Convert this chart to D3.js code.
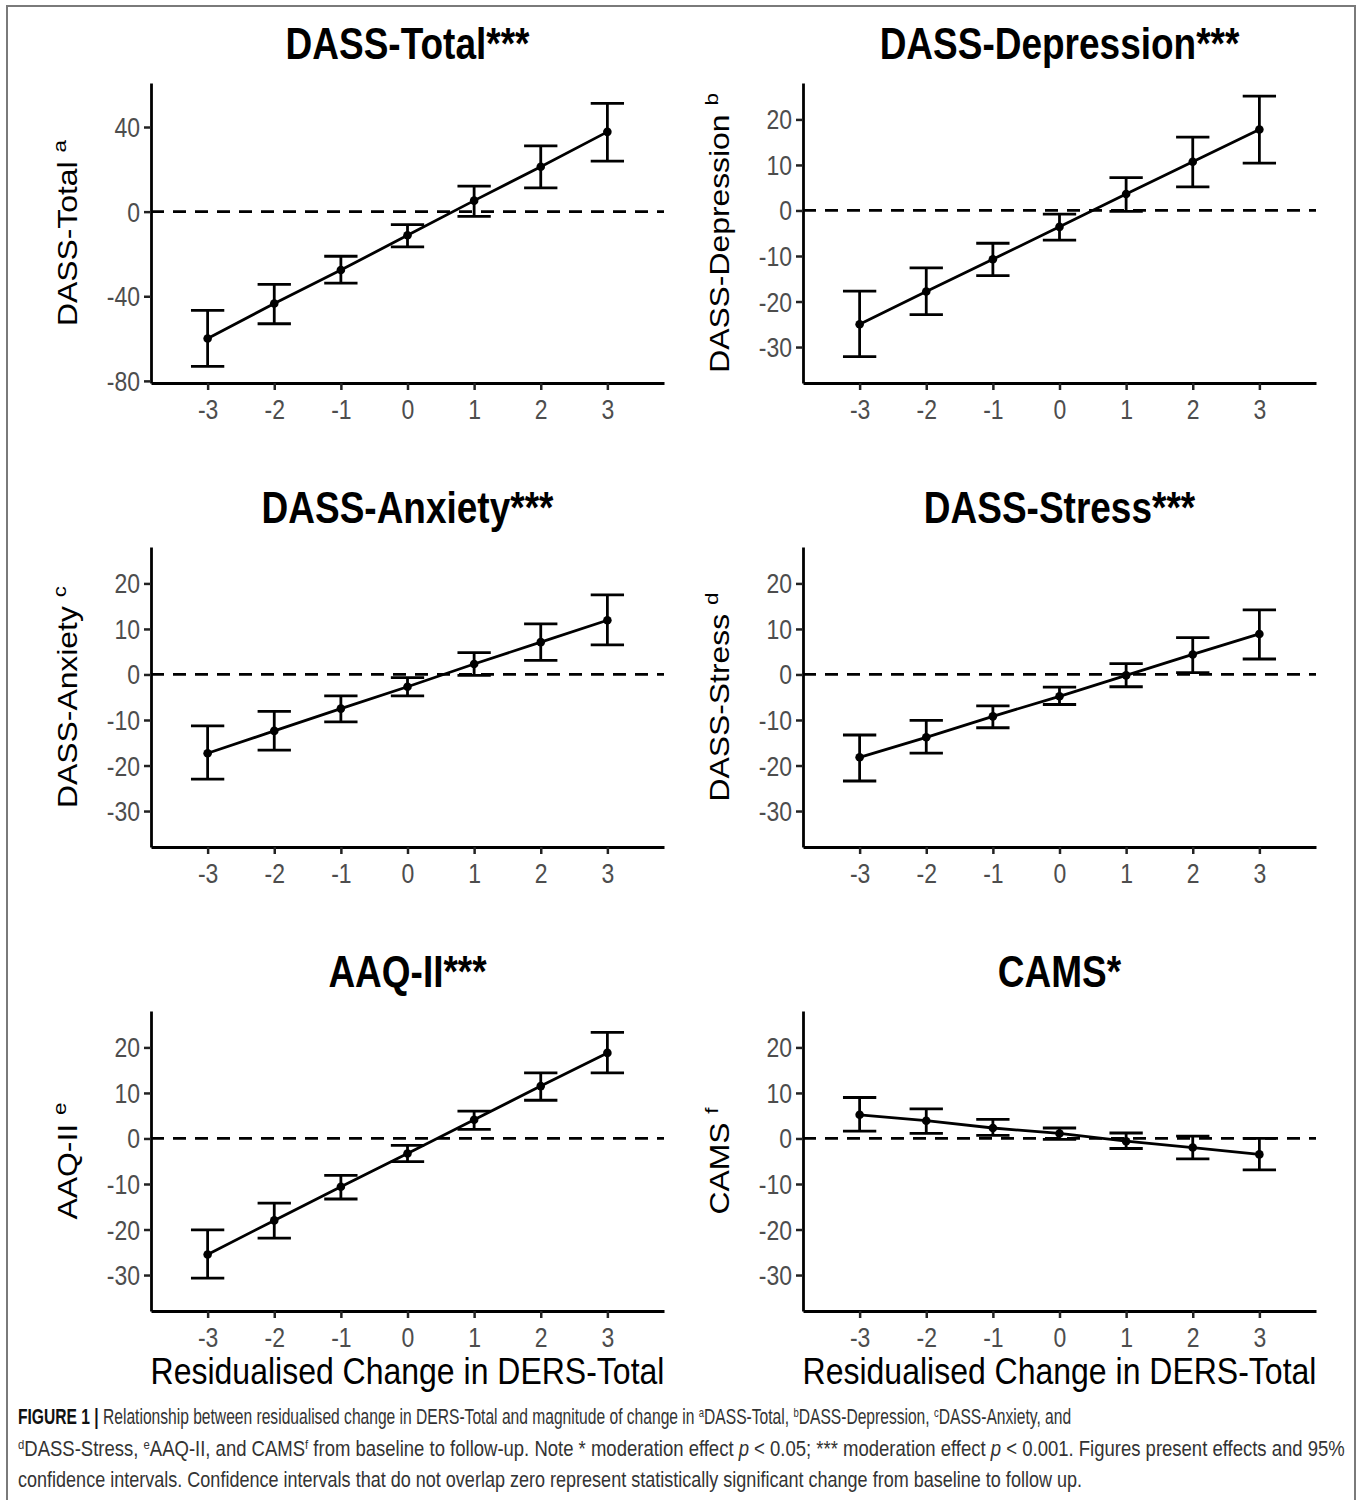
<!DOCTYPE html>
<html>
<head>
<meta charset="utf-8">
<script src="https://cdn.jsdelivr.net/npm/d3@7"></script>
<style>
  body { margin: 0; background: #fff; }
  svg text { font-family: "Liberation Sans", Arial, sans-serif; }
</style>
</head>
<body>
<div id="chart"></div>
<script>
// x levels (residualised change in DERS-Total)
var xLevels = [-3, -2, -1, 0, 1, 2, 3];

// panel titles, y labels and their superscripts
var panelTitles = ["DASS-Total***", "DASS-Depression***", "DASS-Anxiety***", "DASS-Stress***", "AAQ-II***", "CAMS*"];
var yTitles = ["DASS-Total", "DASS-Depression", "DASS-Anxiety", "DASS-Stress", "AAQ-II", "CAMS"];
var ySups = ["a", "b", "c", "d", "e", "f"];

// estimates with lower / upper 95% CI
var totalEst = [-60.0, -43.4, -27.6, -11.2, 5.2, 21.2, 37.7];
var totalLo  = [-73.1, -53.0, -33.8, -16.7, -2.2, 11.2, 23.9];
var totalHi  = [-46.7, -34.4, -21.1, -6.1, 12.1, 31.1, 51.2];

var depEst = [-25.0, -17.8, -10.7, -3.6, 3.6, 10.7, 17.8];
var depLo  = [-32.1, -22.9, -14.3, -6.5, -0.2, 5.2, 10.4];
var depHi  = [-17.7, -12.6, -7.2, -0.8, 7.2, 16.1, 25.1];

var anxEst = [-17.3, -12.4, -7.5, -2.7, 2.3, 7.1, 11.9];
var anxLo  = [-23.0, -16.6, -10.4, -4.7, -0.2, 3.1, 6.5];
var anxHi  = [-11.3, -8.1, -4.7, -0.7, 4.8, 11.1, 17.5];

var strEst = [-18.2, -13.8, -9.2, -4.8, -0.2, 4.4, 8.9];
var strLo  = [-23.4, -17.3, -11.7, -6.6, -2.7, 0.4, 3.4];
var strHi  = [-13.3, -10.1, -6.9, -2.8, 2.4, 8.1, 14.2];

var aaqEst = [-25.5, -18.0, -10.6, -3.3, 4.1, 11.5, 18.8];
var aaqLo  = [-30.7, -21.9, -13.3, -5.1, 2.0, 8.4, 14.4];
var aaqHi  = [-20.1, -14.2, -8.1, -1.5, 6.0, 14.4, 23.3];

var camsEst = [5.2, 3.9, 2.3, 1.1, -0.6, -2.0, -3.5];
var camsLo  = [1.6, 1.1, 0.7, -0.2, -2.2, -4.5, -6.9];
var camsHi  = [9.0, 6.5, 4.2, 2.3, 1.2, 0.5, 0.0];

// y ticks
var totalTicks = [-80, -40, 0, 40];
var subTicks = [-30, -20, -10, 0, 10, 20];

var xTitle = "Residualised Change in DERS-Total";

var panels = [
  { est: totalEst, lo: totalLo, hi: totalHi, dom: [-81, 60.8], ticks: totalTicks },
  { est: depEst, lo: depLo, hi: depHi, dom: [-37.9, 28], ticks: subTicks },
  { est: anxEst, lo: anxLo, hi: anxHi, dom: [-37.9, 28], ticks: subTicks },
  { est: strEst, lo: strLo, hi: strHi, dom: [-37.9, 28], ticks: subTicks },
  { est: aaqEst, lo: aaqLo, hi: aaqHi, dom: [-37.9, 28], ticks: subTicks },
  { est: camsEst, lo: camsLo, hi: camsHi, dom: [-37.9, 28], ticks: subTicks }
];

var W = 1358, H = 1511;
var S = 1.18;   // the original image is a bit stretched vertically, so stretch the text too
var colX = [151, 803], rowY = [83, 547, 1011];
var plotW = 513, plotH = 300;
var lw = 2.8;

var svg = d3.select("#chart").append("svg")
  .attr("width", W).attr("height", H);

svg.append("rect").attr("width", W).attr("height", H).attr("fill", "#fff");

// frame round the figure
svg.append("path")
  .attr("d", "M7,1500 V6 H1355 V1500")
  .attr("fill", "none")
  .attr("stroke", "#7a7a7a")
  .attr("stroke-width", 2);

function place(sel, x, y, rot, sx) {
  sel.attr("x", 0).attr("y", 0)
    .attr("transform", "translate(" + x + "," + y + ") scale(" + (sx || 1) + "," + S + ")" + (rot ? " rotate(-90)" : ""));
}

panels.forEach(function(p, i) {
  var col = i % 2, row = Math.floor(i / 2);
  var g = svg.append("g")
    .attr("transform", "translate(" + colX[col] + "," + rowY[row] + ")");

  var x = d3.scaleLinear().domain([-3.85, 3.85]).range([0, plotW]);
  var y = d3.scaleLinear().domain(p.dom).range([plotH, 0]);

  // axes
  var xa = g.append("g").attr("transform", "translate(0," + plotH + ")")
    .call(d3.axisBottom(x).tickValues(xLevels).tickSize(7).tickSizeOuter(0).tickFormat(d3.format("d")));
  var ya = g.append("g")
    .call(d3.axisLeft(y).tickValues(p.ticks).tickSize(7).tickSizeOuter(0).tickFormat(d3.format("d")));

  [xa, ya].forEach(function(a) {
    a.select(".domain").attr("stroke", "#000").attr("stroke-width", lw);
    a.selectAll(".tick line").attr("stroke", "#222").attr("stroke-width", 2.5);
    a.selectAll(".tick text")
      .attr("fill", "#4d4d4d")
      .style("font-size", "23px")
      .text(function(d) { return d < 0 ? "-" + Math.abs(d) : d; });
  });
  xa.selectAll(".tick text").each(function() {
    var t = d3.select(this);
    place(t, 0, 16, false);
    t.attr("dy", "0.72em").attr("text-anchor", "middle");
  });
  ya.selectAll(".tick text").each(function() {
    var t = d3.select(this);
    place(t, -11, 0, false);
    t.attr("dy", "0.35em").attr("text-anchor", "end");
  });

  // zero reference line
  g.append("line")
    .attr("x1", 0).attr("x2", plotW)
    .attr("y1", y(0)).attr("y2", y(0))
    .attr("stroke", "#000").attr("stroke-width", lw)
    .attr("stroke-dasharray", "13,9");

  var rows = xLevels.map(function(v, k) {
    return { x: v, est: p.est[k], lo: p.lo[k], hi: p.hi[k] };
  });

  // error bars
  var eb = g.selectAll(".eb").data(rows).enter().append("g");
  eb.append("line")
    .attr("x1", function(d) { return x(d.x); }).attr("x2", function(d) { return x(d.x); })
    .attr("y1", function(d) { return y(d.lo); }).attr("y2", function(d) { return y(d.hi); });
  eb.append("line")
    .attr("x1", function(d) { return x(d.x - 0.25); }).attr("x2", function(d) { return x(d.x + 0.25); })
    .attr("y1", function(d) { return y(d.lo); }).attr("y2", function(d) { return y(d.lo); });
  eb.append("line")
    .attr("x1", function(d) { return x(d.x - 0.25); }).attr("x2", function(d) { return x(d.x + 0.25); })
    .attr("y1", function(d) { return y(d.hi); }).attr("y2", function(d) { return y(d.hi); });
  eb.selectAll("line").attr("stroke", "#000").attr("stroke-width", lw);

  // line through the estimates
  g.append("path")
    .datum(rows)
    .attr("fill", "none").attr("stroke", "#000").attr("stroke-width", lw)
    .attr("d", d3.line().x(function(d) { return x(d.x); }).y(function(d) { return y(d.est); }));

  g.selectAll(".pt").data(rows).enter().append("circle")
    .attr("cx", function(d) { return x(d.x); })
    .attr("cy", function(d) { return y(d.est); })
    .attr("r", 4.3).attr("fill", "#000");

  // panel title
  var tt = g.append("text")
    .attr("text-anchor", "middle")
    .style("font-size", "37px").style("font-weight", "bold")
    .text(panelTitles[i]);
  place(tt, plotW / 2, -24, false);

  // y axis title with superscript
  var yt = g.append("text")
    .attr("text-anchor", "middle")
    .style("font-size", "27px").attr("fill", "#000");
  yt.append("tspan").text(yTitles[i] + " ");
  yt.append("tspan").attr("dy", -11).style("font-size", "19px").text(ySups[i]);
  place(yt, -74, plotH / 2, true);

  // x axis title on the bottom row only
  if (row === 2) {
    var xt = g.append("text")
      .attr("text-anchor", "middle")
      .style("font-size", "32px").attr("fill", "#000")
      .text(xTitle);
    place(xt, plotW / 2, plotH + 73, false);
  }
});

// caption
var capLines = [
  [["b", "FIGURE 1 | "], ["n", "Relationship between residualised change in DERS-Total and magnitude of change in "], ["s", "a"], ["n", "DASS-Total, "], ["s", "b"], ["n", "DASS-Depression, "], ["s", "c"], ["n", "DASS-Anxiety, and"]],
  [["s", "d"], ["n", "DASS-Stress, "], ["s", "e"], ["n", "AAQ-II, and CAMS"], ["s", "f"], ["n", " from baseline to follow-up. Note * moderation effect "], ["i", "p"], ["n", " < 0.05; *** moderation effect "], ["i", "p"], ["n", " < 0.001. Figures present effects and 95%"]],
  [["n", "confidence intervals. Confidence intervals that do not overlap zero represent statistically significant change from baseline to follow up."]]
];
var capWidths = [1054, 1328, 1065];
var capBase = [1424, 1456, 1487];

capLines.forEach(function(parts, li) {
  var t = svg.append("text")
    .style("font-size", "18px")
    .attr("fill", "#333");
  var up = false;
  parts.forEach(function(pt) {
    var s = t.append("tspan").text(pt[1]);
    if (pt[0] === "s") { s.attr("dy", -6).style("font-size", "11px"); up = true; }
    else if (up) { s.attr("dy", 6); up = false; }
    if (pt[0] === "b") s.style("font-weight", "bold").attr("fill", "#111");
    if (pt[0] === "i") s.style("font-style", "italic");
  });
  // squeeze the line horizontally to the width it has in the figure
  var natural = t.node().getComputedTextLength();
  place(t, 18, capBase[li], false, capWidths[li] / natural);
});
</script>
</body>
</html>
